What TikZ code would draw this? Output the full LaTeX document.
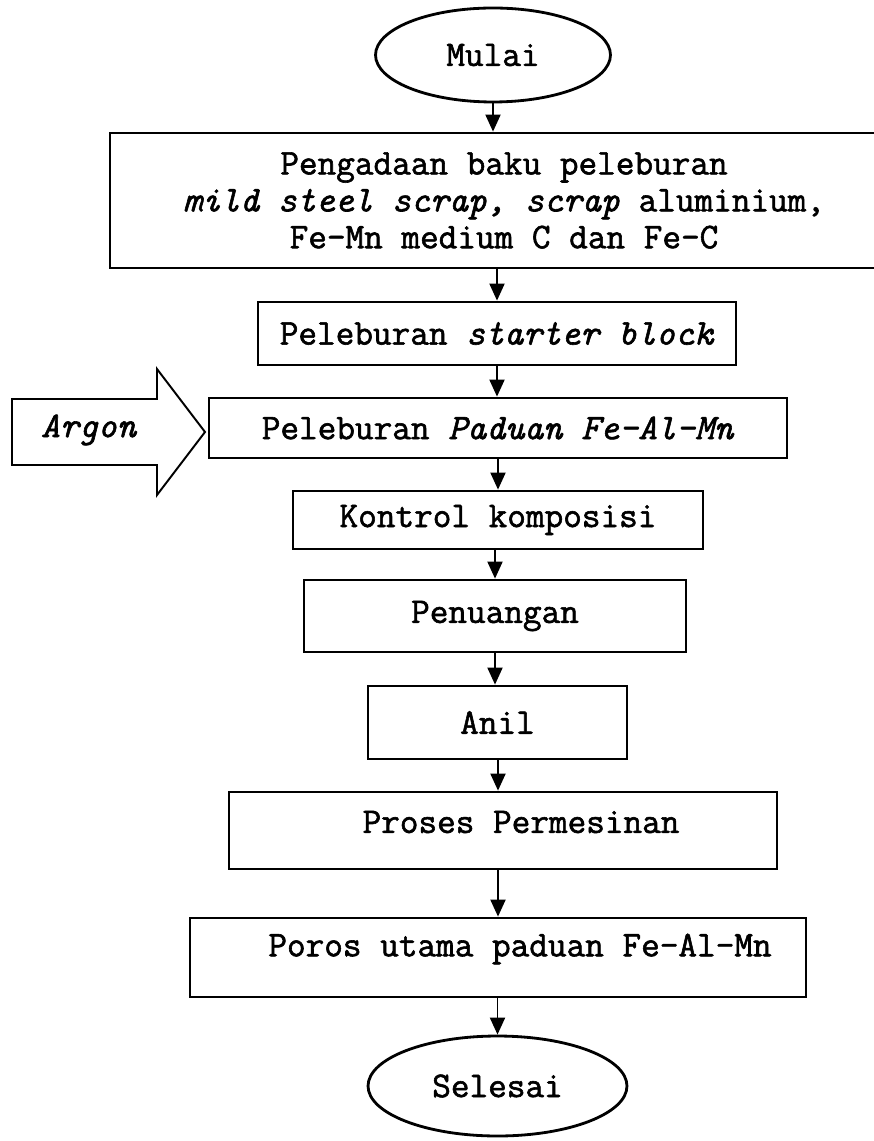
\documentclass[tikz,border=0pt]{standalone}
\usepackage{fontspec}
\setmainfont{Latin Modern Mono}[FakeBold=1.6]
\usetikzlibrary{positioning,arrows.meta,shapes.geometric}

\begin{document}
\begin{tikzpicture}[
  x=0.02cm, y=-0.02cm,
  font=\fontsize{20.6}{21}\selectfont,
  >={Triangle[length=3.4mm, width=3mm]},
  box/.style={draw, line width=1.6pt, inner sep=0pt, align=center},
  term/.style={ellipse, draw, line width=1.6pt, inner sep=0pt},
  flow/.style={->, line width=1.1pt},
  txt/.style={inner sep=0pt},
]
\useasboundingbox (0,0) rectangle (874,1141);

% =================== terminals and steps ===================
\node[term, minimum width=4.7cm, minimum height=1.88cm] (mulai) at (493,55) {Mulai};
\node[box, minimum width=15.76cm, minimum height=2.7cm] (bahan) at (504,200.5)
  {Pengadaan baku peleburan\\
   \textit{mild steel scrap, scrap} aluminium,\\
   Fe-Mn medium C dan Fe-C};
\node[box, minimum width=9.56cm, minimum height=1.26cm] (starter) at (497,333.5)
  {Peleburan \textit{starter block}};
\node[box, minimum width=11.56cm, minimum height=1.2cm] (lebur) at (498,428)
  {Peleburan \textit{Paduan Fe-Al-Mn}};
\node[box, minimum width=8.2cm, minimum height=1.16cm] (kontrol) at (498,520)
  {Kontrol komposisi};
\node[box, minimum width=7.64cm, minimum height=1.44cm] (tuang) at (495,616) {Penuangan};
\node[box, minimum width=5.18cm, minimum height=1.46cm] (anil) at (497.5,722.5) {Anil};
\node[box, minimum width=10.96cm, minimum height=1.54cm] (mesin) at (503,830.5) {};
\node[txt] (mesintxt) at (521,822) {Proses Permesinan};
\node[box, minimum width=12.32cm, minimum height=1.58cm] (poros) at (498,957.5) {};
\node[txt] (porostxt) at (520,949) {Poros utama paduan Fe-Al-Mn};
\node[term, minimum width=5.18cm, minimum height=2cm] (selesai) at (497.5,1086) {Selesai};

% =================== argon inlet ===================
\draw[line width=1.1pt] (12,399) -- (157,399) -- (157,369) -- (205,432)
  -- (157,495) -- (157,465) -- (12,465) -- cycle;
\node[txt] (argon) at (89,430) {\textit{Argon}};

% =================== flow ===================
\draw[flow] (mulai.south) -- (mulai.south |- bahan.north);
\draw[flow] (bahan.south -| starter) -- (starter.north);
\draw[flow] (starter.south) -- (starter.south |- lebur.north);
\draw[flow] (lebur.south) -- (lebur.south |- kontrol.north);
\draw[flow] (tuang.north |- kontrol.south) -- (tuang.north);
\draw[flow] (tuang.south) -- (tuang.south |- anil.north);
\draw[flow] (poros.north |- anil.south) -- (poros.north |- mesin.north);
\draw[flow] (poros.north |- mesin.south) -- (poros.north);
\draw[flow] (poros.south -| selesai) -- (selesai.north);
\end{tikzpicture}
\end{document}
